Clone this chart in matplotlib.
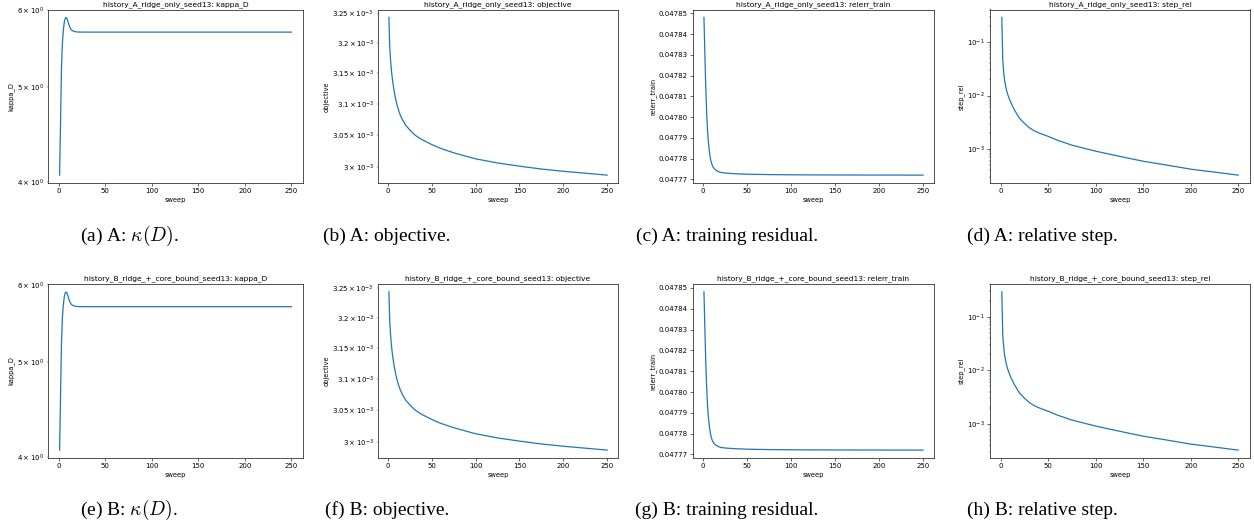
import numpy as np
import matplotlib
matplotlib.use('Agg')
import matplotlib.pyplot as plt

sweep = [1, 2, 3, 4, 5, 6, 7, 8, 9, 10, 11, 12, 13, 14, 16, 18, 20, 25, 30, 35,
         40, 50, 60, 75, 100, 125, 150, 175, 200, 225, 250]

kappa_D = [4.063, 4.60, 5.22, 5.55, 5.72, 5.83, 5.885, 5.90, 5.88, 5.84, 5.80,
           5.765, 5.74, 5.725, 5.71, 5.703, 5.70, 5.698, 5.698, 5.698, 5.698,
           5.698, 5.698, 5.698, 5.698, 5.698, 5.698, 5.698, 5.698, 5.698, 5.698]

objective = [3.2435e-3, 3.192e-3, 3.170e-3, 3.153e-3, 3.140e-3, 3.130e-3,
             3.121e-3, 3.113e-3, 3.106e-3, 3.100e-3, 3.095e-3, 3.090e-3,
             3.086e-3, 3.082e-3, 3.076e-3, 3.071e-3, 3.066e-3, 3.058e-3,
             3.051e-3, 3.046e-3, 3.042e-3, 3.035e-3, 3.029e-3, 3.022e-3,
             3.0125e-3, 3.006e-3, 3.001e-3, 2.9965e-3, 2.993e-3, 2.990e-3,
             2.987e-3]

relerr_train = [0.0478481, 0.0478311, 0.0478151, 0.0478031, 0.0477941,
                0.0477881, 0.0477841, 0.0477809, 0.0477787, 0.0477773,
                0.0477763, 0.0477756, 0.0477751, 0.0477747, 0.0477741,
                0.0477737, 0.0477734, 0.0477731, 0.04777295, 0.0477728,
                0.0477727, 0.04777255, 0.04777245, 0.04777235, 0.04777225,
                0.0477722, 0.04777217, 0.04777215, 0.04777213, 0.04777212,
                0.0477721]

step_rel = [0.29, 0.045, 0.027, 0.019, 0.0150, 0.0125, 0.0108, 0.0096, 0.0086,
            0.0078, 0.0071, 0.0065, 0.0060, 0.0055, 0.0048, 0.0042, 0.0037,
            0.0030, 0.0025, 0.0022, 0.0020, 0.00172, 0.00145, 0.00118, 0.00091,
            0.00073, 0.00059, 0.00050, 0.00042, 0.00037, 0.000325]

runs = ['history_A_ridge_only_seed13', 'history_B_ridge_+_core_bound_seed13']
metrics = ['kappa_D', 'objective', 'relerr_train', 'step_rel']
log_y = [True, True, False, True]
series = [kappa_D, objective, relerr_train, step_rel]

captions = [['(a) A: $\\kappa(D)$.', '(b) A: objective.',
             '(c) A: training residual.', '(d) A: relative step.'],
            ['(e) B: $\\kappa(D)$.', '(f) B: objective.',
             '(g) B: training residual.', '(h) B: relative step.']]

# scaled-down default matplotlib look
s = 0.52
plt.rcParams.update({
    'font.size': 10 * s,
    'axes.titlesize': 5.4,
    'axes.labelsize': 4.8,
    'xtick.labelsize': 5.0,
    'ytick.labelsize': 5.0,
    'axes.linewidth': 0.55,
    'axes.edgecolor': '#222222',
    'lines.linewidth': 0.9,
    'xtick.major.size': 3.5 * s, 'ytick.major.size': 3.5 * s,
    'xtick.minor.size': 2 * s, 'ytick.minor.size': 2 * s,
    'xtick.major.width': 0.8 * s, 'ytick.major.width': 0.8 * s,
    'xtick.minor.width': 0.6 * s, 'ytick.minor.width': 0.6 * s,
    'xtick.major.pad': 3.5 * s, 'ytick.major.pad': 3.5 * s,
    'xtick.minor.pad': 3.4 * s, 'ytick.minor.pad': 3.4 * s,
    'axes.labelpad': 4 * s,
    'axes.titlepad': 2.5,
    'mathtext.fontset': 'dejavusans',
})

W, H = 1254, 528
fig = plt.figure(figsize=(W / 100, H / 100), dpi=100)

# axes boxes in pixels: left, right
cols = [(48, 303), (378, 618), (693, 934), (990, 1250)]
rows = [(9.5, 183), (284, 458)]
cap_x = [129, 387, 727, 1042]
cap_y = [236, 510]

for r, run in enumerate(runs):
    top, bot = rows[r]
    for c, metric in enumerate(metrics):
        l, rr = cols[c]
        ax = fig.add_axes([l / W, 1 - bot / H, (rr - l) / W, (bot - top) / H])
        ax.plot(sweep, series[c], color='#1f77b4')
        if log_y[c]:
            ax.set_yscale('log')
        ax.set_title(run + ': ' + metric)
        ax.set_xlabel('sweep')
        ax.set_ylabel(metric)
        ax.set_xticks([0, 50, 100, 150, 200, 250])
        fig.text(cap_x[c] / W, 1 - cap_y[r] / H, captions[r][c],
                 ha='center', va='center', fontsize=14,
                 family='Liberation Serif', math_fontfamily='cm')

fig.savefig('out.png', dpi=100)
